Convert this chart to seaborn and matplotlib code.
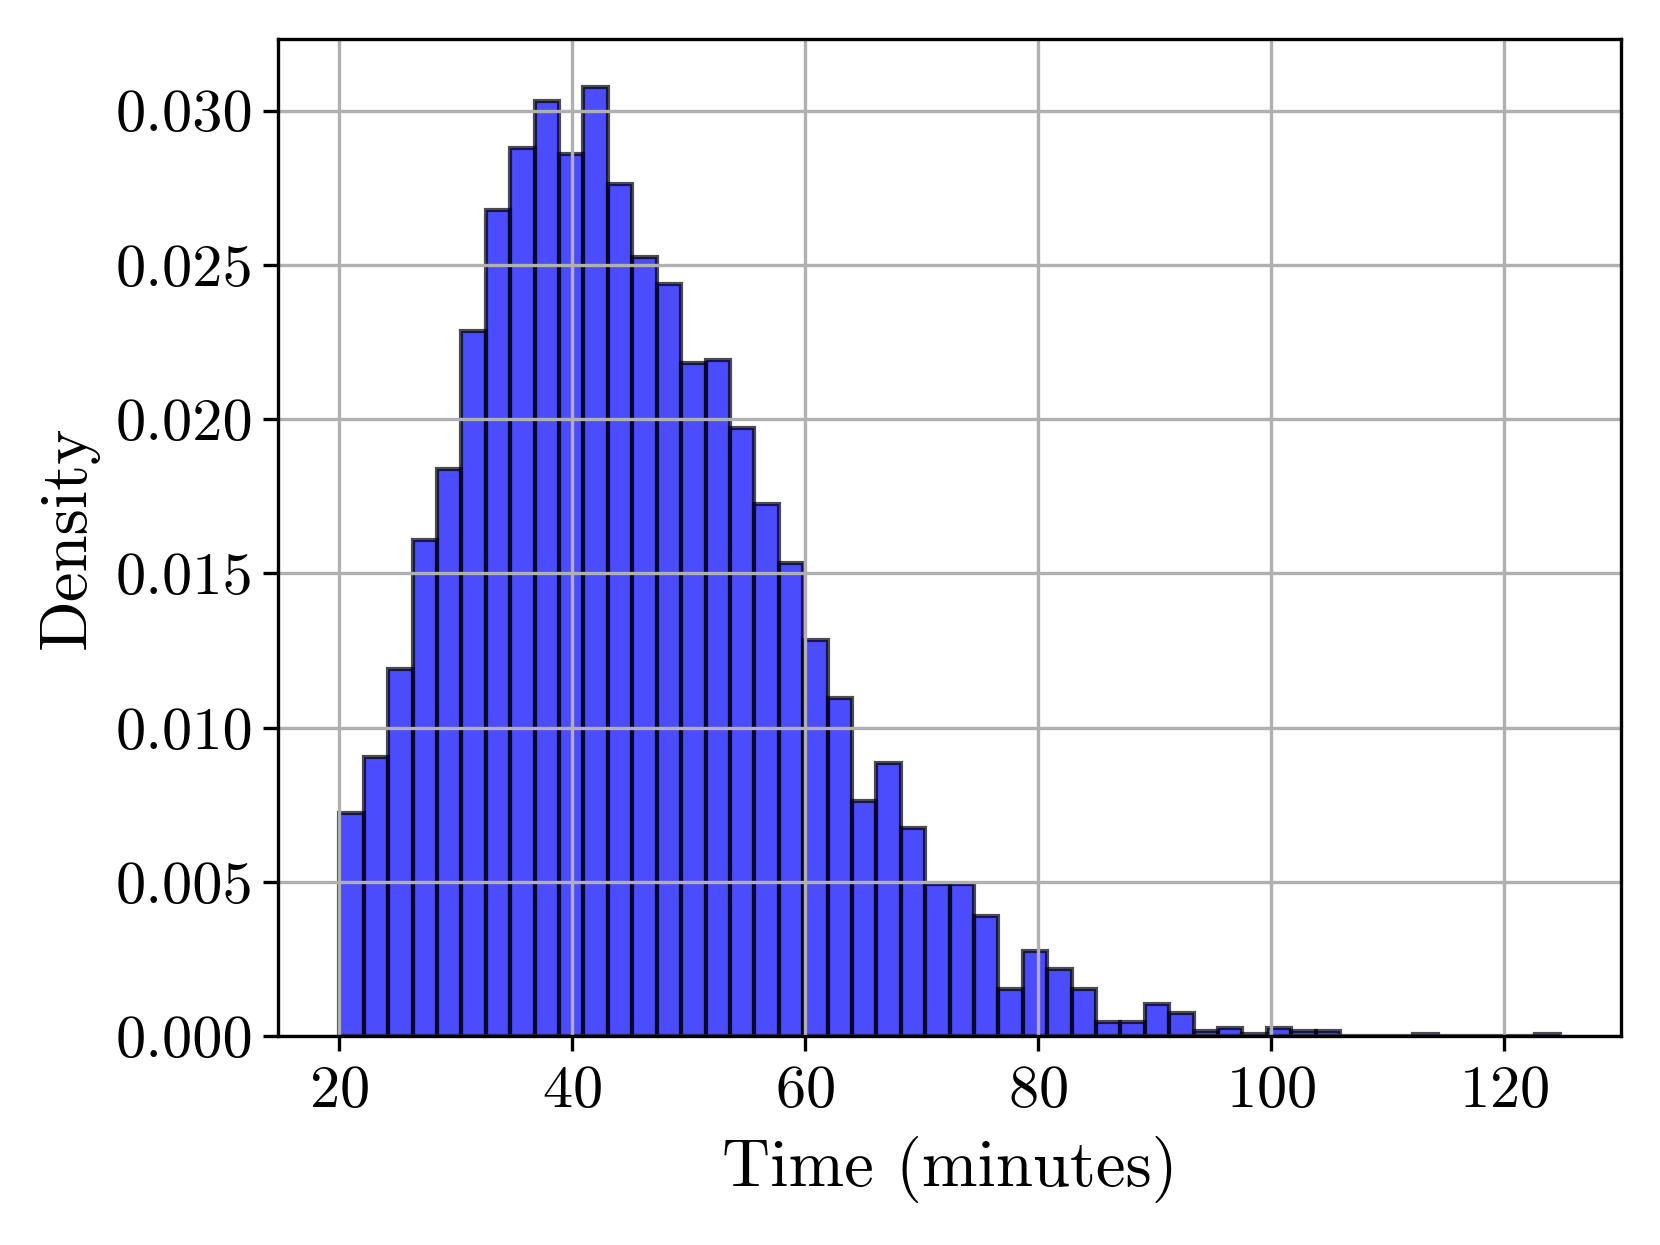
import numpy as np
import pandas as pd
import seaborn as sns
import matplotlib.pyplot as plt

# histogram counts per bin (5000 samples, 50 bins from 20 to 124.8 min)
bin_start = 20.0
bin_stop = 124.8
n_bins = 50
counts = [76, 95, 125, 169, 193, 240, 281, 302, 318, 300,
          323, 290, 265, 256, 229, 230, 207, 181, 161, 135,
          115, 80, 93, 71, 52, 52, 41, 16, 29, 23,
          16, 5, 5, 11, 8, 2, 3, 1, 3, 2,
          2, 0, 0, 0, 1, 0, 0, 0, 0, 1]

edges = np.linspace(bin_start, bin_stop, n_bins + 1)
centers = (edges[:-1] + edges[1:]) / 2
df = pd.DataFrame({"time": centers, "count": counts})

plt.rcParams["font.family"] = "serif"
plt.rcParams["font.serif"] = ["cmr10", "DejaVu Serif"]
plt.rcParams["axes.formatter.use_mathtext"] = True

fig = plt.figure(figsize=(1660 / 300, 1245 / 300), dpi=300)
ax = fig.add_axes([0.1677, 0.1675, 0.8087, 0.801])

sns.histplot(data=df, x="time", weights="count", bins=n_bins,
             binrange=(bin_start, bin_stop), stat="density",
             color="blue", alpha=0.7, edgecolor=(0, 0, 0, 0.7),
             linewidth=1.0, ax=ax)

ax.grid(True)
ax.set_xlabel("Time (minutes)", fontsize=16)
ax.set_ylabel("Density", fontsize=16)
ax.tick_params(labelsize=14.5)
ax.tick_params(axis="y", pad=2.5)
ax.set_xticks([20, 40, 60, 80, 100, 120])
ax.set_yticks([0.0, 0.005, 0.010, 0.015, 0.020, 0.025, 0.030])
ax.set_yticklabels(["0.000", "0.005", "0.010", "0.015", "0.020", "0.025", "0.030"])

fig.savefig("out.png", dpi=300)
